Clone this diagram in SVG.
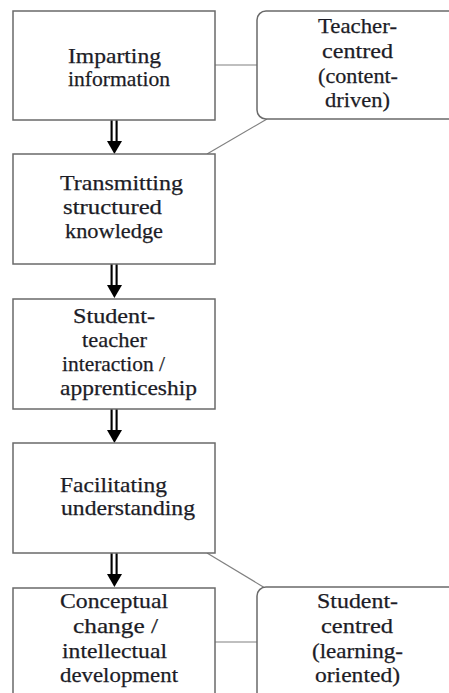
<svg xmlns="http://www.w3.org/2000/svg" width="449" height="693" viewBox="0 0 449 693">
<style>
.box{fill:#fff;stroke:#6a6a6a;stroke-width:1.5}
.lbl{font-family:"Liberation Serif","Times New Roman",serif;font-size:22px;fill:#1c1c26;stroke:#1c1c26;stroke-width:0.25}
.con{stroke:#808080;stroke-width:1.2;fill:none}
</style>
<defs>
<g id="dbl">
<path d="M111.6,0 V24 M116.6,0 V24" stroke="#000" stroke-width="2.1" fill="none"/>
<polygon points="107,21 122,21 114.4,34" fill="#000"/>
</g>
</defs>
<rect width="449" height="693" fill="#fff"/>
<g id="connectors">
<line class="con" x1="215" y1="65" x2="257" y2="65"/>
<line class="con" x1="267" y1="119" x2="207" y2="154"/>
<line class="con" x1="207" y1="553" x2="265" y2="588"/>
<line class="con" x1="215" y1="642" x2="257" y2="642"/>
<use href="#dbl" x="0" y="120"/>
<use href="#dbl" x="0" y="264"/>
<use href="#dbl" x="0" y="409"/>
<use href="#dbl" x="0" y="553"/>
</g>
<g id="n1">
<rect class="box" x="13" y="11" width="202" height="109"/>
<text class="lbl" x="68" y="63" textLength="93" lengthAdjust="spacingAndGlyphs">Imparting</text>
<text class="lbl" x="68" y="86" textLength="102" lengthAdjust="spacingAndGlyphs">information</text>
</g>
<g id="n2">
<rect class="box" x="13" y="154" width="202" height="110"/>
<text class="lbl" x="60" y="190" textLength="123" lengthAdjust="spacingAndGlyphs">Transmitting</text>
<text class="lbl" x="63" y="214" textLength="99" lengthAdjust="spacingAndGlyphs">structured</text>
<text class="lbl" x="65" y="238" textLength="98" lengthAdjust="spacingAndGlyphs">knowledge</text>
</g>
<g id="n3">
<rect class="box" x="13" y="299" width="202" height="110"/>
<text class="lbl" x="73" y="323" textLength="82" lengthAdjust="spacingAndGlyphs">Student-</text>
<text class="lbl" x="82" y="347" textLength="65" lengthAdjust="spacingAndGlyphs">teacher</text>
<text class="lbl" x="62" y="371" textLength="103" lengthAdjust="spacingAndGlyphs">interaction /</text>
<text class="lbl" x="60" y="395" textLength="137" lengthAdjust="spacingAndGlyphs">apprenticeship</text>
</g>
<g id="n4">
<rect class="box" x="13" y="443" width="202" height="110"/>
<text class="lbl" x="60" y="492" textLength="107" lengthAdjust="spacingAndGlyphs">Facilitating</text>
<text class="lbl" x="61" y="515" textLength="134" lengthAdjust="spacingAndGlyphs">understanding</text>
</g>
<g id="n5">
<rect class="box" x="13" y="588" width="202" height="120"/>
<text class="lbl" x="60" y="608" textLength="108" lengthAdjust="spacingAndGlyphs">Conceptual</text>
<text class="lbl" x="73" y="633" textLength="85" lengthAdjust="spacingAndGlyphs">change /</text>
<text class="lbl" x="62" y="658" textLength="105" lengthAdjust="spacingAndGlyphs">intellectual</text>
<text class="lbl" x="60" y="682" textLength="118" lengthAdjust="spacingAndGlyphs">development</text>
</g>
<g id="teacher">
<rect class="box" x="257" y="11" width="210" height="108" rx="9"/>
<text class="lbl" x="318" y="33" textLength="79" lengthAdjust="spacingAndGlyphs">Teacher-</text>
<text class="lbl" x="322" y="58" textLength="71" lengthAdjust="spacingAndGlyphs">centred</text>
<text class="lbl" x="318" y="83" textLength="80" lengthAdjust="spacingAndGlyphs">(content-</text>
<text class="lbl" x="325" y="107" textLength="65" lengthAdjust="spacingAndGlyphs">driven)</text>
</g>
<g id="student">
<rect class="box" x="257" y="587" width="210" height="120" rx="9"/>
<text class="lbl" x="317" y="608" textLength="81" lengthAdjust="spacingAndGlyphs">Student-</text>
<text class="lbl" x="321" y="633" textLength="72" lengthAdjust="spacingAndGlyphs">centred</text>
<text class="lbl" x="312" y="658" textLength="91" lengthAdjust="spacingAndGlyphs">(learning-</text>
<text class="lbl" x="315" y="682" textLength="85" lengthAdjust="spacingAndGlyphs">oriented)</text>
</g>
</svg>
